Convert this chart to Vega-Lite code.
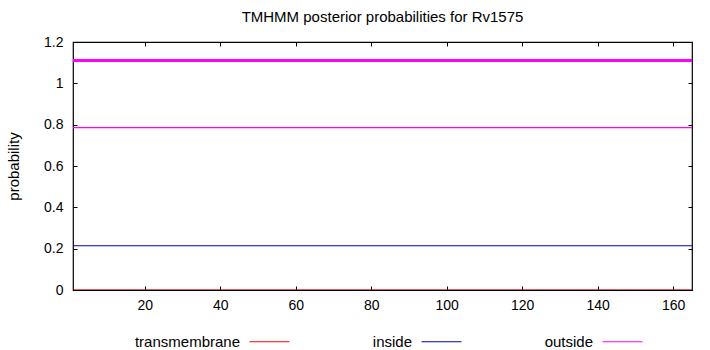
{
  "$schema": "https://vega.github.io/schema/vega-lite/v6.json",
  "width": 619,
  "height": 248,
  "autosize": {"type": "none"},
  "padding": {"left": 73, "top": 42, "right": 18, "bottom": 60},
  "background": "white",
  "title": {"text": "TMHMM posterior probabilities for Rv1575", "font": "Liberation Sans", "fontSize": 15, "fontWeight": "normal", "color": "#000", "offset": 10},
  "config": {
    "view": {"stroke": "#000", "strokeWidth": 1.2},
    "axis": {"labelFont": "Liberation Sans", "labelFontSize": 14, "labelColor": "#000", "titleFont": "Liberation Sans", "titleFontSize": 15, "titleFontWeight": "normal", "titleColor": "#000", "grid": false, "domain": false, "tickColor": "#000", "tickSize": -4, "tickWidth": 1},
    "legend": {"labelFont": "Liberation Sans", "labelFontSize": 15, "labelColor": "#000"}
  },
  "data": {"values": [
    {"pos": 1, "prob": 0, "series": "transmembrane"},
    {"pos": 165, "prob": 0, "series": "transmembrane"},
    {"pos": 1, "prob": 0.214, "series": "inside"},
    {"pos": 165, "prob": 0.214, "series": "inside"},
    {"pos": 1, "prob": 0.786, "series": "outside"},
    {"pos": 165, "prob": 0.786, "series": "outside"}
  ]},
  "layer": [
    {
      "mark": {"type": "line", "strokeWidth": 1.2, "clip": true},
      "encoding": {
        "x": {"field": "pos", "type": "quantitative", "scale": {"domain": [1, 165], "nice": false, "zero": false}, "axis": {"title": null, "values": [20, 40, 60, 80, 100, 120, 140, 160], "labelPadding": 12}},
        "y": {"field": "prob", "type": "quantitative", "scale": {"domain": [0, 1.2], "nice": false}, "axis": {"title": "probability", "values": [0, 0.2, 0.4, 0.6, 0.8, 1, 1.2], "labelPadding": 14, "titlePadding": 22, "format": "~g"}},
        "color": {"field": "series", "type": "nominal", "scale": {"domain": ["transmembrane", "inside", "outside"], "range": ["#ff0000", "#0000cc", "#ff00ff"]},
          "legend": {"title": null, "orient": "none", "direction": "horizontal", "legendX": 176, "legendY": 279, "symbolType": "stroke", "symbolSize": 1600, "symbolStrokeWidth": 1, "columnPadding": 80, "labelAlign": "right", "labelOffset": -50}}
      }
    },
    {
      "data": {"values": [
        {"pos": 1, "lvl": 1.11, "region": "outside"},
        {"pos": 165, "lvl": 1.11, "region": "outside"}
      ]},
      "mark": {"type": "line", "strokeWidth": 3, "color": "#ff00ff"},
      "encoding": {
        "x": {"field": "pos", "type": "quantitative", "axis": {"orient": "top", "labels": false, "title": null, "values": [20, 40, 60, 80, 100, 120, 140, 160]}},
        "y": {"field": "lvl", "type": "quantitative", "axis": {"orient": "right", "labels": false, "title": null, "values": [0, 0.2, 0.4, 0.6, 0.8, 1, 1.2]}}
      }
    }
  ],
  "resolve": {"axis": {"x": "independent", "y": "independent"}}
}
